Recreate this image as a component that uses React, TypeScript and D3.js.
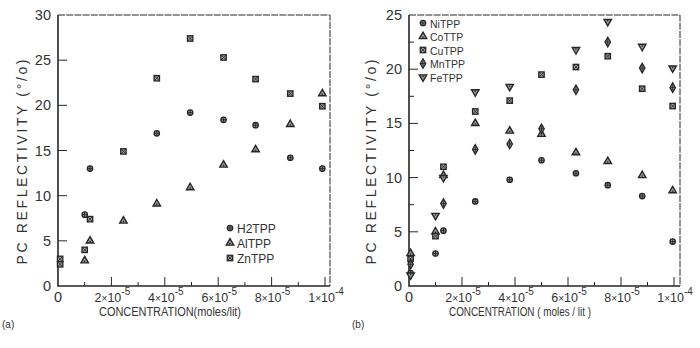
import React from "react";
import * as d3 from "d3";

// ---------- data ----------
const xTickValues = [0, 2e-5, 4e-5, 6e-5, 8e-5, 1e-4];
const xTickMantissa = ["", "2", "4", "6", "8", "1"];
const xTickExp = ["", "-5", "-5", "-5", "-5", "-4"];
const xMinorTicks = [1e-5, 3e-5, 5e-5, 7e-5, 9e-5];
const yTicksA = [0, 5, 10, 15, 20, 25, 30];
const yTicksB = [0, 5, 10, 15, 20, 25];
const yMinorB = [2.5, 7.5, 12.5, 17.5, 22.5];

// panel (a)
const h2Conc = [1e-5, 1.2e-5, 3.7e-5, 4.95e-5, 6.2e-5, 7.4e-5, 8.7e-5, 9.9e-5];
const h2Val = [7.9, 13.0, 16.9, 19.2, 18.4, 17.8, 14.2, 13.0];
const alConc = [1e-5, 1.2e-5, 2.45e-5, 3.7e-5, 4.95e-5, 6.2e-5, 7.4e-5, 8.7e-5, 9.9e-5];
const alVal = [2.8, 5.0, 7.2, 9.1, 10.9, 13.4, 15.1, 17.9, 21.3];
const znConc = [0.08e-5, 0.08e-5, 1e-5, 1.2e-5, 2.45e-5, 3.7e-5, 4.95e-5, 6.2e-5, 7.4e-5, 8.7e-5, 9.9e-5];
const znVal = [3.0, 2.4, 4.0, 7.4, 14.9, 23.0, 27.4, 25.3, 22.9, 21.3, 19.9];

// panel (b)
const niConc = [0.06e-5, 1e-5, 1.3e-5, 2.5e-5, 3.8e-5, 5e-5, 6.3e-5, 7.5e-5, 8.8e-5, 9.95e-5];
const niVal = [1.2, 3.0, 5.1, 7.8, 9.8, 11.6, 10.4, 9.3, 8.3, 4.1];
const coConc = [0.06e-5, 1e-5, 1.3e-5, 2.5e-5, 3.8e-5, 5e-5, 6.3e-5, 7.5e-5, 8.8e-5, 9.95e-5];
const coVal = [3.0, 5.0, 10.2, 15.0, 14.3, 14.0, 12.3, 11.5, 10.2, 8.8];
const cuConc = [0.06e-5, 1e-5, 1.3e-5, 2.5e-5, 3.8e-5, 5e-5, 6.3e-5, 7.5e-5, 8.8e-5, 9.95e-5];
const cuVal = [2.5, 4.6, 11.0, 16.1, 17.1, 19.5, 20.2, 21.2, 18.2, 16.6];
const mnConc = [0.06e-5, 1.3e-5, 2.5e-5, 3.8e-5, 5e-5, 6.3e-5, 7.5e-5, 8.8e-5, 9.95e-5];
const mnVal = [2.0, 7.6, 12.6, 13.1, 14.5, 18.1, 22.5, 20.1, 18.3];
const feConc = [0.06e-5, 1e-5, 1.3e-5, 2.5e-5, 3.8e-5, 6.3e-5, 7.5e-5, 8.8e-5, 9.95e-5];
const feVal = [1.0, 6.5, 10.0, 17.9, 18.4, 21.8, 24.4, 22.1, 20.1];

const INK = "#262626";
const TXT = "#333";
const FILL = "#9a9a9a";
const FONT = "'Liberation Sans', 'DejaVu Sans', sans-serif";

type Kind = "circle" | "triangle" | "square" | "diamond" | "itriangle";

function Marker({ x, y, kind }: { x: number; y: number; kind: Kind }) {
  const s = 2.7;
  if (kind === "circle") {
    return (
      <g>
        <circle cx={x} cy={y} r={s} fill={FILL} stroke={INK} strokeWidth={1.3} />
        <path d={`M${x - s},${y}H${x + s}M${x},${y - s}V${y + s}`} stroke={INK} strokeWidth={0.9} />
      </g>
    );
  }
  if (kind === "square") {
    return (
      <g>
        <rect x={x - s} y={y - s} width={2 * s} height={2 * s} fill={FILL} stroke={INK} strokeWidth={1.3} />
        <path d={`M${x - s},${y - s}L${x + s},${y + s}M${x + s},${y - s}L${x - s},${y + s}`} stroke={INK} strokeWidth={0.8} />
      </g>
    );
  }
  if (kind === "diamond") {
    const p = d3.symbol().type(d3.symbolDiamond).size(26)()!;
    return (
      <g transform={`translate(${x},${y})`}>
        <path d={p} fill={FILL} stroke={INK} strokeWidth={1.3} />
        <path d="M-2.2,0H2.2M0,-3V3" stroke={INK} strokeWidth={0.9} />
      </g>
    );
  }
  const p = d3.symbol().type(d3.symbolTriangle).size(24)()!;
  return (
    <g transform={`translate(${x},${y}) rotate(${kind === "itriangle" ? 180 : 0})`}>
      <path d={p} fill={FILL} stroke={INK} strokeWidth={1.4} />
      <circle cx={0} cy={0.6} r={0.8} fill={INK} />
    </g>
  );
}

interface Series {
  name: string;
  kind: Kind;
  conc: number[];
  val: number[];
}

function Panel(props: {
  x0: number;
  x1: number;
  frameRight: number;
  yMax: number;
  yTicks: number[];
  yMinor: number[];
  series: Series[];
  legendX: number;
  legendY: number;
  legendDy: number;
  legendSize: number;
  yLabelX: number;
  xLabelX: number;
  xLabel: string;
  panelLabel: string;
  panelLabelX: number;
}) {
  const top = 15;
  const bottom = 286;
  const x = d3.scaleLinear().domain([0, 1e-4]).range([props.x0, props.x1]);
  const y = d3.scaleLinear().domain([0, props.yMax]).range([bottom, top]);
  const left = x(0);
  return (
    <g>
      {/* frame */}
      <path d={`M${left},${top}V${bottom}H${props.frameRight}`} fill="none" stroke={INK} strokeWidth={1.6} />
      <path d={`M${left},${top}H${props.frameRight}V${bottom}`} fill="none" stroke={INK} strokeWidth={1} strokeDasharray="7,1.2" />
      {/* y ticks */}
      {props.yTicks.map((t) => (
        <g key={"yt" + t}>
          {t > 0 && t < props.yMax && <line x1={left} x2={left + 9} y1={y(t)} y2={y(t)} stroke={INK} strokeWidth={1} />}
          <text x={left - 7} y={y(t) + 5} textAnchor="end" fontSize={14.5} fontFamily={FONT} fill={TXT}>
            {t}
          </text>
        </g>
      ))}
      {props.yMinor.map((t) => (
        <line key={"ym" + t} x1={left} x2={left + 5} y1={y(t)} y2={y(t)} stroke={INK} strokeWidth={1} />
      ))}
      {/* x ticks */}
      {xTickValues.map((t, i) => (
        <g key={"xt" + i}>
          {t > 0 && <line x1={x(t)} x2={x(t)} y1={bottom} y2={bottom - 9} stroke={INK} strokeWidth={1} />}
          {i === 0 ? (
            <text x={x(t)} y={bottom + 16} textAnchor="middle" fontSize={14.5} fontFamily={FONT} fill={TXT}>
              0
            </text>
          ) : (
            <text x={x(t) + 1} y={bottom + 16} textAnchor="middle" fontSize={12.5} fontFamily={FONT} fill={TXT}>
              {xTickMantissa[i]}
              <tspan fontSize={10}>×</tspan>10
              <tspan fontSize={10} dy={-7}>
                {xTickExp[i]}
              </tspan>
            </text>
          )}
        </g>
      ))}
      {xMinorTicks.map((t) => (
        <line key={"xm" + t} x1={x(t)} x2={x(t)} y1={bottom} y2={bottom - 4} stroke={INK} strokeWidth={1} />
      ))}
      {/* axis labels */}
      <text
        x={props.xLabelX}
        y={316}
        textAnchor="middle"
        fontSize={12.5}
        fontFamily={FONT}
        fill={TXT}
        textLength={142}
        lengthAdjust="spacingAndGlyphs"
      >
        {props.xLabel}
      </text>
      <text
        transform={`translate(${props.yLabelX},${162}) rotate(-90)`}
        textAnchor="middle"
        fontSize={14}
        fontFamily={FONT}
        fill={TXT}
        textLength={205}
        lengthAdjust="spacing"
      >
        PC  REFLECTIVITY (°/o)
      </text>
      <text x={props.panelLabelX} y={328} fontSize={10} fontFamily={FONT} fill={TXT}>
        {props.panelLabel}
      </text>
      {/* data */}
      {props.series.map((s) =>
        s.conc.map((c, i) => <Marker key={s.name + i} x={x(c)} y={y(s.val[i])} kind={s.kind} />)
      )}
      {/* legend */}
      {props.series.map((s, i) => (
        <g key={"lg" + s.name}>
          <Marker x={props.legendX} y={props.legendY + i * props.legendDy} kind={s.kind} />
          <text
            x={props.legendX + 7}
            y={props.legendY + i * props.legendDy + 4.5}
            fontSize={props.legendSize}
            fontFamily={FONT}
            fill={TXT}
          >
            {s.name}
          </text>
        </g>
      ))}
    </g>
  );
}

export default function App() {
  const seriesA: Series[] = [
    { name: "H2TPP", kind: "circle", conc: h2Conc, val: h2Val },
    { name: "AlTPP", kind: "triangle", conc: alConc, val: alVal },
    { name: "ZnTPP", kind: "square", conc: znConc, val: znVal },
  ];
  const seriesB: Series[] = [
    { name: "NiTPP", kind: "circle", conc: niConc, val: niVal },
    { name: "CoTTP", kind: "triangle", conc: coConc, val: coVal },
    { name: "CuTPP", kind: "square", conc: cuConc, val: cuVal },
    { name: "MnTPP", kind: "diamond", conc: mnConc, val: mnVal },
    { name: "FeTPP", kind: "itriangle", conc: feConc, val: feVal },
  ];
  return (
    <svg
      width={700}
      height={348}
      style={{ position: "absolute", left: 0, top: 0, background: "#fff" }}
    >
      <rect width={700} height={348} fill="#fff" />
      <Panel
        x0={58}
        x1={325}
        frameRight={330}
        yMax={30}
        yTicks={yTicksA}
        yMinor={[]}
        series={seriesA}
        legendX={230}
        legendY={228}
        legendDy={15}
        legendSize={12}
        yLabelX={27}
        xLabelX={170}
        xLabel="CONCENTRATION(moles/lit)"
        panelLabel="(a)"
        panelLabelX={2}
      />
      <Panel
        x0={409}
        x1={674}
        frameRight={680}
        yMax={25}
        yTicks={yTicksB}
        yMinor={yMinorB}
        series={seriesB}
        legendX={423}
        legendY={23}
        legendDy={13.5}
        legendSize={10.5}
        yLabelX={376}
        xLabelX={520}
        xLabel="CONCENTRATION ( moles / lit )"
        panelLabel="(b)"
        panelLabelX={352}
      />
    </svg>
  );
}
